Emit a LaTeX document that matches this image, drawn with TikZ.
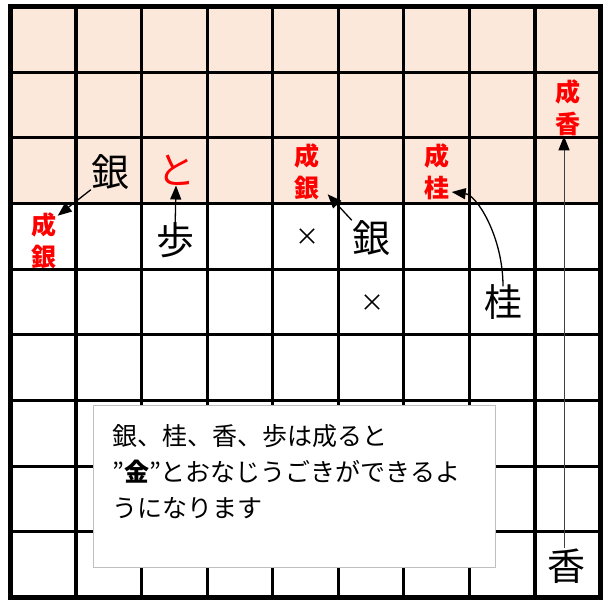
\documentclass[tikz,border=0pt]{standalone}
\usepackage{fontspec}
\newfontfamily\jp{Noto Sans CJK JP}
\usetikzlibrary{arrows.meta}
\definecolor{peach}{HTML}{FBE8DA}
\definecolor{boxgray}{HTML}{BFBFBF}
\begin{document}
\begin{tikzpicture}[x=1pt,y=-1pt,
  piece/.style={font=\jp\fontsize{38}{38}\selectfont, inner sep=0pt},
  prom/.style={font=\jp\bfseries\fontsize{25}{32}\selectfont, text=red, align=center, inner sep=0pt},
  xmk/.style={font=\jp\fontsize{24}{24}\selectfont, inner sep=0pt},
  mv/.style={-{Triangle[length=14pt,width=11pt]}, line width=1.3pt},
  gridline/.style={line width=3.2pt},
]
\useasboundingbox (0,0) rectangle (612,600);
\fill[peach] (10.5,6.5) rectangle (600.5,203.5);
\foreach \i in {1,...,8} {
  \draw[gridline] ({10.5+65.556*\i},6.5) -- ({10.5+65.556*\i},597.5);
  \draw[gridline] (10.5,{6.5+65.667*\i}) -- (600.5,{6.5+65.667*\i});
}
\draw[line width=5pt] (10.5,6.5) rectangle (600.5,597.5);

% pieces
\node[piece] (gin1) at (110,172) {銀};
\node[piece, text=red] (to) at (176,170) {と};
\node[piece] (fu) at (175,240) {歩};
\node[prom] (ng1) at (44,241) {成\\銀};
\node[xmk] (x1) at (307,237) {×};
\node[xmk] (x2) at (372,303) {×};
\node[piece] (gin2) at (371,238) {銀};
\node[prom] (ng2) at (307,172) {成\\銀};
\node[prom] (nk) at (437,172) {成\\桂};
\node[piece] (kei) at (503,302) {桂};
\node[prom] (nky) at (568,108) {成\\香};
\node[piece] (kyo) at (566,566) {香};

% moves
\draw[mv] (gin1.south west) -- ([xshift=1pt,yshift=-3pt]ng1.north east);
\draw[mv] ([yshift=-10pt]fu.north) -- (to.south);
\draw[mv] (gin2.north west) -- ([xshift=8pt,yshift=6pt]ng2.south east);
\draw[mv] ([yshift=-2pt]kei.north) .. controls +(0,-50) and +(25,3) .. ([xshift=2pt,yshift=-20pt]nk.east);
\draw[line width=1pt, black!75, -{Triangle[length=14pt,width=11pt,color=black]}] ([xshift=-2pt]kyo.north) -- ([xshift=-2pt]kyo.north |- nky.south);

% note
\node[draw=boxgray, line width=1.3pt, fill=white, minimum width=402pt, minimum height=162pt, anchor=north west, inner sep=0pt] (note) at (93,405) {};
\node[anchor=north west, align=left, inner sep=0pt, font=\jp\fontsize{25}{36}\selectfont] (notetext) at (112,424) {銀、桂、香、歩は成ると\\”{\bfseries 金}”とおなじうごきができるよ\\うになります};
\end{tikzpicture}
\end{document}
